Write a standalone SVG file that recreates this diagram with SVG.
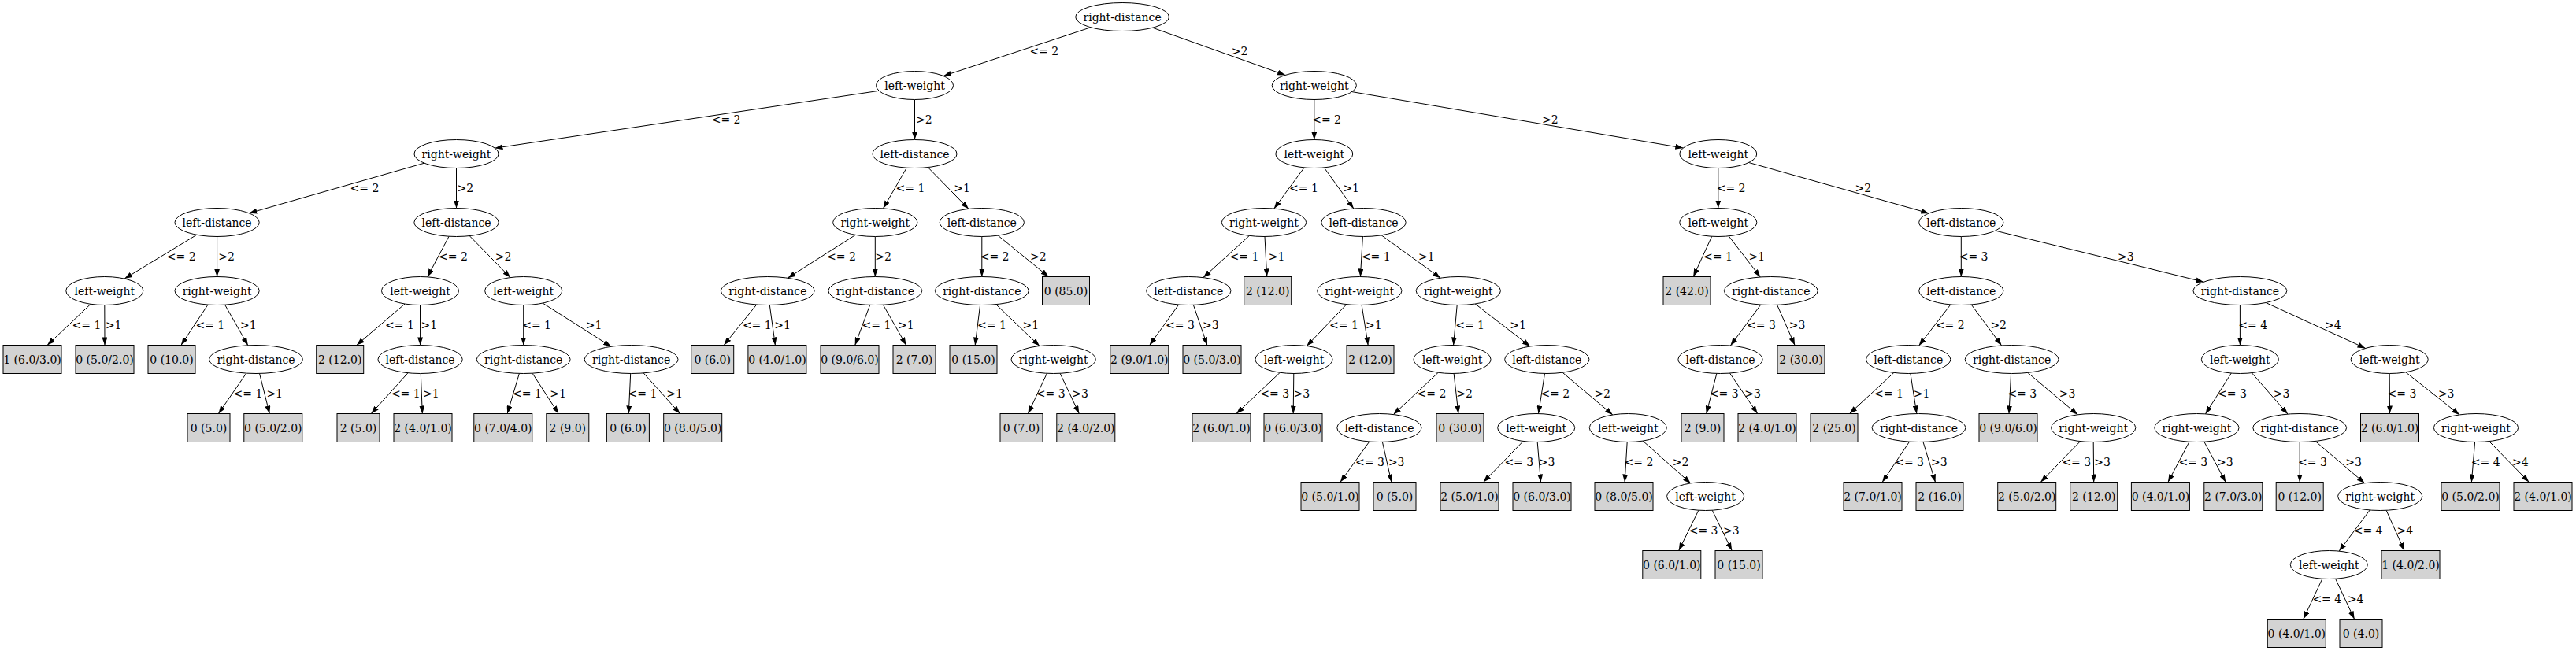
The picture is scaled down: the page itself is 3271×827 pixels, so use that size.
<svg xmlns="http://www.w3.org/2000/svg" width="3271" height="827" viewBox="0 0 3271 827">
<style>
text{font-family:"DejaVu Serif","Liberation Serif",serif;font-size:14px;fill:#000}
.nd text,.lf text{text-anchor:middle}
.lf rect{fill:#d3d3d3;stroke:#000;stroke-width:1}
#edges line{stroke:#000;stroke-width:1;marker-end:url(#a)}
#labels text{text-anchor:start}
</style>
<defs>
<marker id="a" markerUnits="userSpaceOnUse" markerWidth="10" markerHeight="7" refX="10" refY="3.5" orient="auto"><path d="M0,0L10,3.5L0,7z" fill="#000"/></marker>
<ellipse id="RD" rx="59.4" ry="18" fill="#fff" stroke="#000" stroke-width="1"/>
<ellipse id="LD" rx="53.6" ry="18" fill="#fff" stroke="#000" stroke-width="1"/>
<ellipse id="RW" rx="53.6" ry="18" fill="#fff" stroke="#000" stroke-width="1"/>
<ellipse id="LW" rx="49" ry="18" fill="#fff" stroke="#000" stroke-width="1"/>
</defs>
<rect width="3271" height="827" fill="#fff"/>
<g id="edges">
<line x1="1384.9" y1="34.8" x2="1198.0" y2="96.5"/>
<line x1="1463.5" y1="35.2" x2="1632.1" y2="95.4"/>
<line x1="1116.1" y1="115.3" x2="628.5" y2="188.2"/>
<line x1="1161.5" y1="126.5" x2="1161.5" y2="177.5"/>
<line x1="1668.8" y1="126.5" x2="1668.8" y2="177.5"/>
<line x1="1716.7" y1="116.6" x2="2137.3" y2="188.0"/>
<line x1="538.7" y1="207.2" x2="316.4" y2="270.8"/>
<line x1="579.5" y1="213.5" x2="579.5" y2="264.5"/>
<line x1="1151.3" y1="213.2" x2="1121.5" y2="264.8"/>
<line x1="1178.3" y1="212.6" x2="1230.0" y2="265.4"/>
<line x1="1656.1" y1="212.9" x2="1617.8" y2="265.0"/>
<line x1="1681.3" y1="212.9" x2="1718.9" y2="265.0"/>
<line x1="2181.8" y1="213.5" x2="2181.8" y2="264.5"/>
<line x1="2220.7" y1="206.5" x2="2449.2" y2="270.9"/>
<line x1="249.7" y1="298.3" x2="158.1" y2="354.1"/>
<line x1="275.6" y1="300.5" x2="275.6" y2="351.5"/>
<line x1="570.1" y1="300.2" x2="542.8" y2="351.8"/>
<line x1="596.2" y1="299.6" x2="648.1" y2="352.6"/>
<line x1="1086.3" y1="298.4" x2="1000.3" y2="353.2"/>
<line x1="1111.3" y1="300.5" x2="1111.3" y2="351.5"/>
<line x1="1246.8" y1="300.5" x2="1246.8" y2="351.5"/>
<line x1="1267.2" y1="299.1" x2="1331.4" y2="351.5"/>
<line x1="1586.4" y1="299.4" x2="1527.9" y2="352.6"/>
<line x1="1606.0" y1="300.5" x2="1608.7" y2="351.5"/>
<line x1="1730.4" y1="300.5" x2="1727.4" y2="351.5"/>
<line x1="1754.1" y1="298.8" x2="1829.2" y2="353.2"/>
<line x1="2173.7" y1="300.3" x2="2150.2" y2="351.5"/>
<line x1="2195.1" y1="299.8" x2="2235.3" y2="352.0"/>
<line x1="2490.3" y1="300.5" x2="2490.3" y2="351.5"/>
<line x1="2533.6" y1="293.1" x2="2798.3" y2="358.2"/>
<line x1="115.1" y1="386.3" x2="60.0" y2="438.5"/>
<line x1="132.8" y1="387.5" x2="133" y2="438.5"/>
<line x1="264.0" y1="387.1" x2="229.9" y2="438.5"/>
<line x1="285.6" y1="387.2" x2="314.9" y2="438.8"/>
<line x1="514.1" y1="386.0" x2="452.8" y2="438.5"/>
<line x1="533.5" y1="387.5" x2="533.6" y2="438.5"/>
<line x1="664.7" y1="387.5" x2="664.7" y2="438.5"/>
<line x1="689.2" y1="385.1" x2="776.0" y2="440.3"/>
<line x1="960.7" y1="387.0" x2="919.2" y2="438.5"/>
<line x1="977.3" y1="387.5" x2="984.4" y2="438.5"/>
<line x1="1104.7" y1="387.4" x2="1085.7" y2="438.5"/>
<line x1="1121.4" y1="387.2" x2="1150.7" y2="438.5"/>
<line x1="1244.6" y1="387.5" x2="1238.2" y2="438.5"/>
<line x1="1264.7" y1="386.7" x2="1320.0" y2="439.5"/>
<line x1="1496.7" y1="387.0" x2="1459.7" y2="438.5"/>
<line x1="1515.4" y1="387.4" x2="1532.9" y2="438.5"/>
<line x1="1709.9" y1="386.6" x2="1659.3" y2="439.5"/>
<line x1="1729.1" y1="387.5" x2="1737.2" y2="438.5"/>
<line x1="1850.2" y1="387.5" x2="1845.6" y2="438.5"/>
<line x1="1873.2" y1="386.0" x2="1942.9" y2="440.0"/>
<line x1="2235.8" y1="387.1" x2="2197.4" y2="439.0"/>
<line x1="2256.6" y1="387.3" x2="2279.1" y2="438.5"/>
<line x1="2476.9" y1="386.9" x2="2436.6" y2="439.1"/>
<line x1="2503.2" y1="387.0" x2="2541.6" y2="438.9"/>
<line x1="2844.4" y1="387.5" x2="2844.4" y2="438.5"/>
<line x1="2877.2" y1="384.5" x2="3003.6" y2="442.4"/>
<line x1="312.8" y1="474.1" x2="277.4" y2="525.5"/>
<line x1="329.5" y1="474.4" x2="342.3" y2="525.5"/>
<line x1="518.0" y1="473.7" x2="471.3" y2="525.5"/>
<line x1="534.3" y1="474.5" x2="536.3" y2="525.5"/>
<line x1="659.4" y1="474.4" x2="644.2" y2="525.5"/>
<line x1="676.1" y1="474.2" x2="709.2" y2="525.5"/>
<line x1="800.7" y1="474.5" x2="798.3" y2="525.5"/>
<line x1="817.2" y1="473.9" x2="863.5" y2="525.5"/>
<line x1="1329.4" y1="474.3" x2="1305.4" y2="525.5"/>
<line x1="1346.1" y1="474.3" x2="1370.3" y2="525.5"/>
<line x1="1625.3" y1="473.3" x2="1570.0" y2="525.5"/>
<line x1="1642.8" y1="474.5" x2="1642.2" y2="525.5"/>
<line x1="1826.2" y1="473.3" x2="1769.4" y2="526.6"/>
<line x1="1846.1" y1="474.5" x2="1851.9" y2="525.5"/>
<line x1="1961.5" y1="474.5" x2="1953.5" y2="525.5"/>
<line x1="1984.1" y1="473.2" x2="2047.8" y2="527.0"/>
<line x1="2179.9" y1="474.4" x2="2166.7" y2="525.5"/>
<line x1="2196.5" y1="474.0" x2="2231.7" y2="525.5"/>
<line x1="2404.9" y1="473.4" x2="2348.5" y2="525.5"/>
<line x1="2425.9" y1="474.5" x2="2433.8" y2="525.5"/>
<line x1="2553.6" y1="474.5" x2="2551" y2="525.5"/>
<line x1="2574.8" y1="473.4" x2="2638.3" y2="526.8"/>
<line x1="2833.3" y1="474.0" x2="2800.5" y2="525.9"/>
<line x1="2859.3" y1="473.6" x2="2905.0" y2="526.1"/>
<line x1="3034.2" y1="474.5" x2="3034.5" y2="525.5"/>
<line x1="3054.8" y1="472.8" x2="3123.1" y2="526.9"/>
<line x1="1738.8" y1="561.0" x2="1701.9" y2="612.5"/>
<line x1="1755.4" y1="561.4" x2="1766.9" y2="612.5"/>
<line x1="1934.2" y1="560.4" x2="1883.5" y2="612.5"/>
<line x1="1952.2" y1="561.5" x2="1956.5" y2="612.5"/>
<line x1="2066.2" y1="561.5" x2="2063.1" y2="612.5"/>
<line x1="2086.1" y1="560.1" x2="2146.8" y2="613.9"/>
<line x1="2424.6" y1="561.1" x2="2390.1" y2="612.5"/>
<line x1="2442.0" y1="561.4" x2="2457.5" y2="612.5"/>
<line x1="2641.6" y1="560.6" x2="2591.2" y2="612.5"/>
<line x1="2658.2" y1="561.5" x2="2658.7" y2="612.5"/>
<line x1="2780.0" y1="561.2" x2="2752.9" y2="612.5"/>
<line x1="2798.9" y1="561.2" x2="2826.2" y2="612.5"/>
<line x1="2920.2" y1="561.5" x2="2920.2" y2="612.5"/>
<line x1="2940.1" y1="560.5" x2="3002.6" y2="613.8"/>
<line x1="3142.6" y1="561.5" x2="3138.4" y2="612.5"/>
<line x1="3160.7" y1="560.6" x2="3211.4" y2="612.5"/>
<line x1="2156.9" y1="648.2" x2="2131.7" y2="699.5"/>
<line x1="2174.2" y1="648.2" x2="2199.2" y2="699.5"/>
<line x1="3009.2" y1="648.0" x2="2970.2" y2="700.1"/>
<line x1="3030.1" y1="648.3" x2="3053.0" y2="699.5"/>
<line x1="2948.9" y1="735.2" x2="2924.8" y2="786.5"/>
<line x1="2965.6" y1="735.2" x2="2989.6" y2="786.5"/>
</g>
<g id="labels">
<text x="1307.4" y="70">&lt;= 2</text><text x="1563.7" y="70">&gt;2</text>
<text x="903.7" y="157">&lt;= 2</text><text x="1163" y="157">&gt;2</text>
<text x="1666.2" y="157">&lt;= 2</text><text x="1958" y="157">&gt;2</text>
<text x="444.6" y="244">&lt;= 2</text><text x="580.5" y="244">&gt;2</text>
<text x="1137.5" y="244">&lt;= 1</text><text x="1211.2" y="244">&gt;1</text>
<text x="1637" y="244">&lt;= 1</text><text x="1705.4" y="244">&gt;1</text>
<text x="2179.7" y="244">&lt;= 2</text><text x="2355.5" y="244">&gt;2</text>
<text x="211.8" y="331">&lt;= 2</text><text x="277.2" y="331">&gt;2</text>
<text x="557" y="331">&lt;= 2</text><text x="628.7" y="331">&gt;2</text>
<text x="1050.1" y="331">&lt;= 2</text><text x="1111.3" y="331">&gt;2</text>
<text x="1244.7" y="331">&lt;= 2</text><text x="1308" y="331">&gt;2</text>
<text x="1561.6" y="331">&lt;= 1</text><text x="1610.8" y="331">&gt;1</text>
<text x="1728.9" y="331">&lt;= 1</text><text x="1801.1" y="331">&gt;1</text>
<text x="2163" y="331">&lt;= 1</text><text x="2220.5" y="331">&gt;1</text>
<text x="2487.7" y="331">&lt;= 3</text><text x="2689" y="331">&gt;3</text>
<text x="91.5" y="418">&lt;= 1</text><text x="133.9" y="418">&gt;1</text>
<text x="248.4" y="418">&lt;= 1</text><text x="305" y="418">&gt;1</text>
<text x="489" y="418">&lt;= 1</text><text x="534.5" y="418">&gt;1</text>
<text x="663.2" y="418">&lt;= 1</text><text x="743.7" y="418">&gt;1</text>
<text x="942.9" y="418">&lt;= 1</text><text x="983.2" y="418">&gt;1</text>
<text x="1094.6" y="418">&lt;= 1</text><text x="1140.1" y="418">&gt;1</text>
<text x="1241" y="418">&lt;= 1</text><text x="1298.6" y="418">&gt;1</text>
<text x="1480" y="418">&lt;= 3</text><text x="1527.1" y="418">&gt;3</text>
<text x="1688.1" y="418">&lt;= 1</text><text x="1734.1" y="418">&gt;1</text>
<text x="1848.2" y="418">&lt;= 1</text><text x="1917.2" y="418">&gt;1</text>
<text x="2218" y="418">&lt;= 3</text><text x="2271.8" y="418">&gt;3</text>
<text x="2457.8" y="418">&lt;= 2</text><text x="2527.4" y="418">&gt;2</text>
<text x="2842.3" y="418">&lt;= 4</text><text x="2952" y="418">&gt;4</text>
<text x="296.5" y="505">&lt;= 1</text><text x="338.4" y="505">&gt;1</text>
<text x="496.9" y="505">&lt;= 1</text><text x="537.1" y="505">&gt;1</text>
<text x="651.1" y="505">&lt;= 1</text><text x="698.2" y="505">&gt;1</text>
<text x="797.6" y="505">&lt;= 1</text><text x="846.2" y="505">&gt;1</text>
<text x="1315.8" y="505">&lt;= 3</text><text x="1361.3" y="505">&gt;3</text>
<text x="1600.3" y="505">&lt;= 3</text><text x="1642.6" y="505">&gt;3</text>
<text x="1799.5" y="505">&lt;= 2</text><text x="1849.2" y="505">&gt;2</text>
<text x="1956.4" y="505">&lt;= 2</text><text x="2024.4" y="505">&gt;2</text>
<text x="2170.9" y="505">&lt;= 3</text><text x="2215.3" y="505">&gt;3</text>
<text x="2380" y="505">&lt;= 1</text><text x="2429.8" y="505">&gt;1</text>
<text x="2549.4" y="505">&lt;= 3</text><text x="2614.7" y="505">&gt;3</text>
<text x="2816.1" y="505">&lt;= 3</text><text x="2886.7" y="505">&gt;3</text>
<text x="3031.6" y="505">&lt;= 3</text><text x="3095.9" y="505">&gt;3</text>
<text x="1721" y="592">&lt;= 3</text><text x="1762.9" y="592">&gt;3</text>
<text x="1910.4" y="592">&lt;= 3</text><text x="1953.8" y="592">&gt;3</text>
<text x="2062.6" y="592">&lt;= 2</text><text x="2123.8" y="592">&gt;2</text>
<text x="2406.2" y="592">&lt;= 3</text><text x="2452" y="592">&gt;3</text>
<text x="2618.4" y="592">&lt;= 3</text><text x="2659.2" y="592">&gt;3</text>
<text x="2766.4" y="592">&lt;= 3</text><text x="2815" y="592">&gt;3</text>
<text x="2918.1" y="592">&lt;= 3</text><text x="2978.2" y="592">&gt;3</text>
<text x="3137.8" y="592">&lt;= 4</text><text x="3190.1" y="592">&gt;4</text>
<text x="2144.7" y="679">&lt;= 3</text><text x="2188.1" y="679">&gt;3</text>
<text x="2988.7" y="679">&lt;= 4</text><text x="3043.6" y="679">&gt;4</text>
<text x="2936.4" y="766">&lt;= 4</text><text x="2980.9" y="766">&gt;4</text>
</g>
<g id="n0" class="nd" transform="translate(1425.1,21.5)"><use href="#RD"/><text y="5">right-distance</text></g>
<g id="n1" class="nd" transform="translate(1161.5,108.5)"><use href="#LW"/><text y="5">left-weight</text></g>
<g id="n2" class="nd" transform="translate(1668.8,108.5)"><use href="#RW"/><text y="5">right-weight</text></g>
<g id="n3" class="nd" transform="translate(579.5,195.5)"><use href="#RW"/><text y="5">right-weight</text></g>
<g id="n4" class="nd" transform="translate(1161.5,195.5)"><use href="#LD"/><text y="5">left-distance</text></g>
<g id="n5" class="nd" transform="translate(1668.8,195.5)"><use href="#LW"/><text y="5">left-weight</text></g>
<g id="n6" class="nd" transform="translate(2181.8,195.5)"><use href="#LW"/><text y="5">left-weight</text></g>
<g id="n7" class="nd" transform="translate(275.6,282.5)"><use href="#LD"/><text y="5">left-distance</text></g>
<g id="n8" class="nd" transform="translate(579.5,282.5)"><use href="#LD"/><text y="5">left-distance</text></g>
<g id="n9" class="nd" transform="translate(1111.3,282.5)"><use href="#RW"/><text y="5">right-weight</text></g>
<g id="n10" class="nd" transform="translate(1246.8,282.5)"><use href="#LD"/><text y="5">left-distance</text></g>
<g id="n11" class="nd" transform="translate(1605,282.5)"><use href="#RW"/><text y="5">right-weight</text></g>
<g id="n12" class="nd" transform="translate(1731.5,282.5)"><use href="#LD"/><text y="5">left-distance</text></g>
<g id="n13" class="nd" transform="translate(2181.8,282.5)"><use href="#LW"/><text y="5">left-weight</text></g>
<g id="n14" class="nd" transform="translate(2490.3,282.5)"><use href="#LD"/><text y="5">left-distance</text></g>
<g id="n15" class="nd" transform="translate(132.8,369.5)"><use href="#LW"/><text y="5">left-weight</text></g>
<g id="n16" class="nd" transform="translate(275.6,369.5)"><use href="#RW"/><text y="5">right-weight</text></g>
<g id="n17" class="nd" transform="translate(533.5,369.5)"><use href="#LW"/><text y="5">left-weight</text></g>
<g id="n18" class="nd" transform="translate(664.7,369.5)"><use href="#LW"/><text y="5">left-weight</text></g>
<g id="n19" class="nd" transform="translate(974.8,369.5)"><use href="#RD"/><text y="5">right-distance</text></g>
<g id="n20" class="nd" transform="translate(1111.3,369.5)"><use href="#RD"/><text y="5">right-distance</text></g>
<g id="n21" class="nd" transform="translate(1246.8,369.5)"><use href="#RD"/><text y="5">right-distance</text></g>
<g id="n22" class="lf" transform="translate(1353.5,369.5)"><rect x="-30" y="-18" width="60" height="36"/><text y="5">0 (85.0)</text></g>
<g id="n23" class="nd" transform="translate(1509.3,369.5)"><use href="#LD"/><text y="5">left-distance</text></g>
<g id="n24" class="lf" transform="translate(1609.7,369.5)"><rect x="-30" y="-18" width="60" height="36"/><text y="5">2 (12.0)</text></g>
<g id="n25" class="nd" transform="translate(1726.3,369.5)"><use href="#RW"/><text y="5">right-weight</text></g>
<g id="n26" class="nd" transform="translate(1851.8,369.5)"><use href="#RW"/><text y="5">right-weight</text></g>
<g id="n27" class="lf" transform="translate(2142,369.5)"><rect x="-30" y="-18" width="60" height="36"/><text y="5">2 (42.0)</text></g>
<g id="n28" class="nd" transform="translate(2248.8,369.5)"><use href="#RD"/><text y="5">right-distance</text></g>
<g id="n29" class="nd" transform="translate(2490.3,369.5)"><use href="#LD"/><text y="5">left-distance</text></g>
<g id="n30" class="nd" transform="translate(2844.4,369.5)"><use href="#RD"/><text y="5">right-distance</text></g>
<g id="n31" class="lf" transform="translate(41,456.5)"><rect x="-37" y="-18" width="74" height="36"/><text y="5">1 (6.0/3.0)</text></g>
<g id="n32" class="lf" transform="translate(133,456.5)"><rect x="-37" y="-18" width="74" height="36"/><text y="5">0 (5.0/2.0)</text></g>
<g id="n33" class="lf" transform="translate(218,456.5)"><rect x="-30" y="-18" width="60" height="36"/><text y="5">0 (10.0)</text></g>
<g id="n34" class="nd" transform="translate(325,456.5)"><use href="#RD"/><text y="5">right-distance</text></g>
<g id="n35" class="lf" transform="translate(431.7,456.5)"><rect x="-30" y="-18" width="60" height="36"/><text y="5">2 (12.0)</text></g>
<g id="n36" class="nd" transform="translate(533.6,456.5)"><use href="#LD"/><text y="5">left-distance</text></g>
<g id="n37" class="nd" transform="translate(664.7,456.5)"><use href="#RD"/><text y="5">right-distance</text></g>
<g id="n38" class="nd" transform="translate(801.6,456.5)"><use href="#RD"/><text y="5">right-distance</text></g>
<g id="n39" class="lf" transform="translate(904.7,456.5)"><rect x="-27" y="-18" width="54" height="36"/><text y="5">0 (6.0)</text></g>
<g id="n40" class="lf" transform="translate(986.9,456.5)"><rect x="-37" y="-18" width="74" height="36"/><text y="5">0 (4.0/1.0)</text></g>
<g id="n41" class="lf" transform="translate(1079,456.5)"><rect x="-37" y="-18" width="74" height="36"/><text y="5">0 (9.0/6.0)</text></g>
<g id="n42" class="lf" transform="translate(1161,456.5)"><rect x="-27" y="-18" width="54" height="36"/><text y="5">2 (7.0)</text></g>
<g id="n43" class="lf" transform="translate(1236,456.5)"><rect x="-30" y="-18" width="60" height="36"/><text y="5">0 (15.0)</text></g>
<g id="n44" class="nd" transform="translate(1337.7,456.5)"><use href="#RW"/><text y="5">right-weight</text></g>
<g id="n45" class="lf" transform="translate(1446.8,456.5)"><rect x="-37" y="-18" width="74" height="36"/><text y="5">2 (9.0/1.0)</text></g>
<g id="n46" class="lf" transform="translate(1539,456.5)"><rect x="-37" y="-18" width="74" height="36"/><text y="5">0 (5.0/3.0)</text></g>
<g id="n47" class="nd" transform="translate(1643,456.5)"><use href="#LW"/><text y="5">left-weight</text></g>
<g id="n48" class="lf" transform="translate(1740,456.5)"><rect x="-30" y="-18" width="60" height="36"/><text y="5">2 (12.0)</text></g>
<g id="n49" class="nd" transform="translate(1844,456.5)"><use href="#LW"/><text y="5">left-weight</text></g>
<g id="n50" class="nd" transform="translate(1964.3,456.5)"><use href="#LD"/><text y="5">left-distance</text></g>
<g id="n51" class="nd" transform="translate(2184.5,456.5)"><use href="#LD"/><text y="5">left-distance</text></g>
<g id="n52" class="lf" transform="translate(2287,456.5)"><rect x="-30" y="-18" width="60" height="36"/><text y="5">2 (30.0)</text></g>
<g id="n53" class="nd" transform="translate(2423.2,456.5)"><use href="#LD"/><text y="5">left-distance</text></g>
<g id="n54" class="nd" transform="translate(2554.6,456.5)"><use href="#RD"/><text y="5">right-distance</text></g>
<g id="n55" class="nd" transform="translate(2844.4,456.5)"><use href="#LW"/><text y="5">left-weight</text></g>
<g id="n56" class="nd" transform="translate(3034.2,456.5)"><use href="#LW"/><text y="5">left-weight</text></g>
<g id="n57" class="lf" transform="translate(265,543.5)"><rect x="-27" y="-18" width="54" height="36"/><text y="5">0 (5.0)</text></g>
<g id="n58" class="lf" transform="translate(346.8,543.5)"><rect x="-37" y="-18" width="74" height="36"/><text y="5">0 (5.0/2.0)</text></g>
<g id="n59" class="lf" transform="translate(455,543.5)"><rect x="-27" y="-18" width="54" height="36"/><text y="5">2 (5.0)</text></g>
<g id="n60" class="lf" transform="translate(537,543.5)"><rect x="-37" y="-18" width="74" height="36"/><text y="5">2 (4.0/1.0)</text></g>
<g id="n61" class="lf" transform="translate(638.8,543.5)"><rect x="-37" y="-18" width="74" height="36"/><text y="5">0 (7.0/4.0)</text></g>
<g id="n62" class="lf" transform="translate(720.8,543.5)"><rect x="-27" y="-18" width="54" height="36"/><text y="5">2 (9.0)</text></g>
<g id="n63" class="lf" transform="translate(797.4,543.5)"><rect x="-27" y="-18" width="54" height="36"/><text y="5">0 (6.0)</text></g>
<g id="n64" class="lf" transform="translate(879.7,543.5)"><rect x="-37" y="-18" width="74" height="36"/><text y="5">0 (8.0/5.0)</text></g>
<g id="n65" class="lf" transform="translate(1297,543.5)"><rect x="-27" y="-18" width="54" height="36"/><text y="5">0 (7.0)</text></g>
<g id="n66" class="lf" transform="translate(1378.8,543.5)"><rect x="-37" y="-18" width="74" height="36"/><text y="5">2 (4.0/2.0)</text></g>
<g id="n67" class="lf" transform="translate(1551,543.5)"><rect x="-37" y="-18" width="74" height="36"/><text y="5">2 (6.0/1.0)</text></g>
<g id="n68" class="lf" transform="translate(1642,543.5)"><rect x="-37" y="-18" width="74" height="36"/><text y="5">0 (6.0/3.0)</text></g>
<g id="n69" class="nd" transform="translate(1751.4,543.5)"><use href="#LD"/><text y="5">left-distance</text></g>
<g id="n70" class="lf" transform="translate(1854,543.5)"><rect x="-30" y="-18" width="60" height="36"/><text y="5">0 (30.0)</text></g>
<g id="n71" class="nd" transform="translate(1950.7,543.5)"><use href="#LW"/><text y="5">left-weight</text></g>
<g id="n72" class="nd" transform="translate(2067.3,543.5)"><use href="#LW"/><text y="5">left-weight</text></g>
<g id="n73" class="lf" transform="translate(2162,543.5)"><rect x="-27" y="-18" width="54" height="36"/><text y="5">2 (9.0)</text></g>
<g id="n74" class="lf" transform="translate(2244,543.5)"><rect x="-37" y="-18" width="74" height="36"/><text y="5">2 (4.0/1.0)</text></g>
<g id="n75" class="lf" transform="translate(2329,543.5)"><rect x="-30" y="-18" width="60" height="36"/><text y="5">2 (25.0)</text></g>
<g id="n76" class="nd" transform="translate(2436.5,543.5)"><use href="#RD"/><text y="5">right-distance</text></g>
<g id="n77" class="lf" transform="translate(2550,543.5)"><rect x="-37" y="-18" width="74" height="36"/><text y="5">0 (9.0/6.0)</text></g>
<g id="n78" class="nd" transform="translate(2658.2,543.5)"><use href="#RW"/><text y="5">right-weight</text></g>
<g id="n79" class="nd" transform="translate(2789.4,543.5)"><use href="#RW"/><text y="5">right-weight</text></g>
<g id="n80" class="nd" transform="translate(2920.2,543.5)"><use href="#RD"/><text y="5">right-distance</text></g>
<g id="n81" class="lf" transform="translate(3034.5,543.5)"><rect x="-37" y="-18" width="74" height="36"/><text y="5">2 (6.0/1.0)</text></g>
<g id="n82" class="nd" transform="translate(3144,543.5)"><use href="#RW"/><text y="5">right-weight</text></g>
<g id="n83" class="lf" transform="translate(1689,630.5)"><rect x="-37" y="-18" width="74" height="36"/><text y="5">0 (5.0/1.0)</text></g>
<g id="n84" class="lf" transform="translate(1771,630.5)"><rect x="-27" y="-18" width="54" height="36"/><text y="5">0 (5.0)</text></g>
<g id="n85" class="lf" transform="translate(1866,630.5)"><rect x="-37" y="-18" width="74" height="36"/><text y="5">2 (5.0/1.0)</text></g>
<g id="n86" class="lf" transform="translate(1958,630.5)"><rect x="-37" y="-18" width="74" height="36"/><text y="5">0 (6.0/3.0)</text></g>
<g id="n87" class="lf" transform="translate(2062,630.5)"><rect x="-37" y="-18" width="74" height="36"/><text y="5">0 (8.0/5.0)</text></g>
<g id="n88" class="nd" transform="translate(2165.6,630.5)"><use href="#LW"/><text y="5">left-weight</text></g>
<g id="n89" class="lf" transform="translate(2378,630.5)"><rect x="-37" y="-18" width="74" height="36"/><text y="5">2 (7.0/1.0)</text></g>
<g id="n90" class="lf" transform="translate(2463,630.5)"><rect x="-30" y="-18" width="60" height="36"/><text y="5">2 (16.0)</text></g>
<g id="n91" class="lf" transform="translate(2573.7,630.5)"><rect x="-37" y="-18" width="74" height="36"/><text y="5">2 (5.0/2.0)</text></g>
<g id="n92" class="lf" transform="translate(2658.7,630.5)"><rect x="-30" y="-18" width="60" height="36"/><text y="5">2 (12.0)</text></g>
<g id="n93" class="lf" transform="translate(2743.4,630.5)"><rect x="-37" y="-18" width="74" height="36"/><text y="5">0 (4.0/1.0)</text></g>
<g id="n94" class="lf" transform="translate(2835.8,630.5)"><rect x="-37" y="-18" width="74" height="36"/><text y="5">2 (7.0/3.0)</text></g>
<g id="n95" class="lf" transform="translate(2920.2,630.5)"><rect x="-30" y="-18" width="60" height="36"/><text y="5">0 (12.0)</text></g>
<g id="n96" class="nd" transform="translate(3022.2,630.5)"><use href="#RW"/><text y="5">right-weight</text></g>
<g id="n97" class="lf" transform="translate(3137,630.5)"><rect x="-37" y="-18" width="74" height="36"/><text y="5">0 (5.0/2.0)</text></g>
<g id="n98" class="lf" transform="translate(3229,630.5)"><rect x="-37" y="-18" width="74" height="36"/><text y="5">2 (4.0/1.0)</text></g>
<g id="n99" class="lf" transform="translate(2122.8,717.5)"><rect x="-37" y="-18" width="74" height="36"/><text y="5">0 (6.0/1.0)</text></g>
<g id="n100" class="lf" transform="translate(2208,717.5)"><rect x="-30" y="-18" width="60" height="36"/><text y="5">0 (15.0)</text></g>
<g id="n101" class="nd" transform="translate(2957.3,717.5)"><use href="#LW"/><text y="5">left-weight</text></g>
<g id="n102" class="lf" transform="translate(3061,717.5)"><rect x="-37" y="-18" width="74" height="36"/><text y="5">1 (4.0/2.0)</text></g>
<g id="n103" class="lf" transform="translate(2916.3,804.5)"><rect x="-37" y="-18" width="74" height="36"/><text y="5">0 (4.0/1.0)</text></g>
<g id="n104" class="lf" transform="translate(2998,804.5)"><rect x="-27" y="-18" width="54" height="36"/><text y="5">0 (4.0)</text></g>
</svg>
